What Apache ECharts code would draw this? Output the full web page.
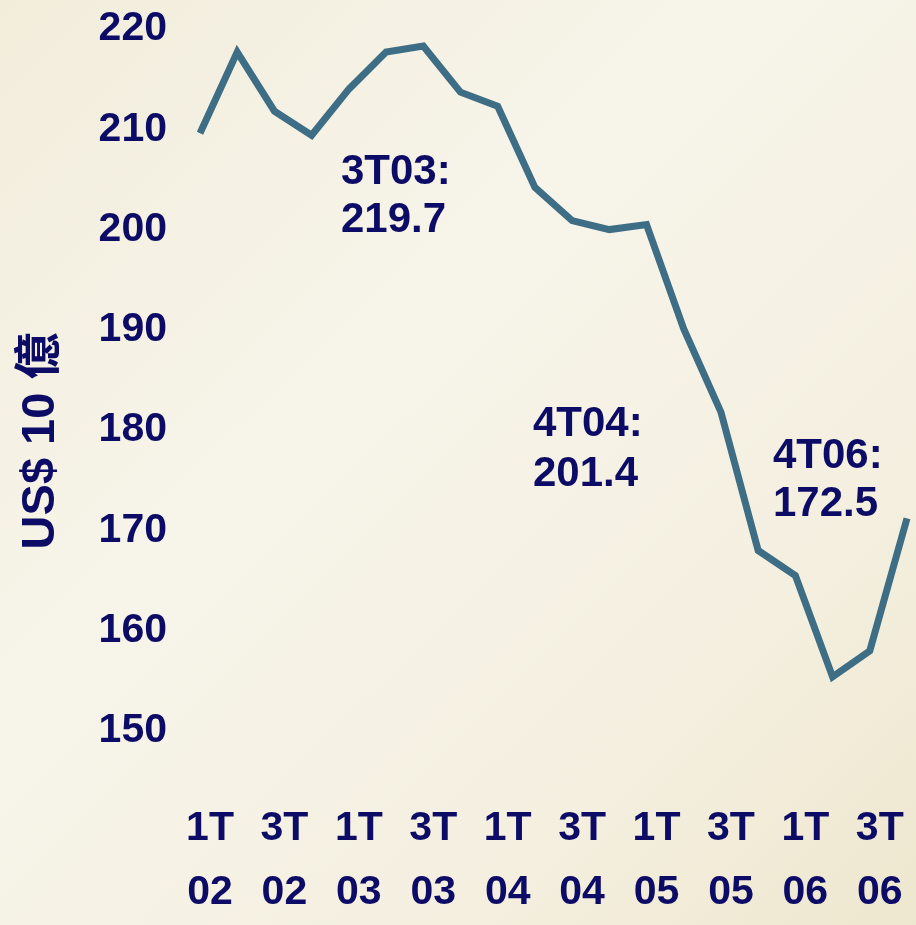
<!DOCTYPE html>
<html>
<head>
<meta charset="utf-8">
<script src="https://cdn.jsdelivr.net/npm/echarts@6/dist/echarts.min.js"></script>
<style>
  html, body { margin: 0; padding: 0; }
  #chart { width: 916px; height: 925px; }
</style>
</head>
<body>
<div id="chart"></div>
<script>
// 季度 (1T02 ... 4T06)
var years = ['02', '03', '04', '05', '06'];
var quarters = ['1T', '2T', '3T', '4T'];
// US$ 10 億
var values = [209.6, 217.7, 211.8, 209.4, 214.0, 217.7, 218.3, 213.7, 212.3, 204.2,
              200.9, 200.0, 200.5, 190.1, 181.8, 168.0, 165.5, 155.4, 158.0, 171.2];
var yTicks = [150, 160, 170, 180, 190, 200, 210, 220];
var notes = ['3T03:\n219.7', '4T04:\n201.4', '4T06:\n172.5'];

var categories = [];
years.forEach(function (y) {
  quarters.forEach(function (q) { categories.push(q + '\n' + y); });
});

var navy = '#0c0c66';
var font = '"Liberation Sans", Arial, "Noto Sans CJK TC", sans-serif';

var chart = echarts.init(document.getElementById('chart'));
chart.setOption({
  animation: false,
  backgroundColor: {
    type: 'linear', x: 0, y: 0, x2: 1, y2: 1,
    colorStops: [
      { offset: 0, color: '#f2eddb' },
      { offset: 0.4, color: '#f7f4ea' },
      { offset: 0.75, color: '#f4efdf' },
      { offset: 1, color: '#eee7cf' }
    ]
  },
  grid: { left: 200, right: 9, top: 29, bottom: 185 },
  xAxis: {
    type: 'category',
    boundaryGap: false,
    data: categories,
    axisLine: { show: false },
    axisTick: { show: false },
    axisLabel: {
      interval: 1,
      margin: 66,
      color: navy,
      fontFamily: font,
      fontWeight: 'bold',
      fontSize: 41,
      lineHeight: 64,
      padding: [0, 0, 0, 20]
    }
  },
  yAxis: {
    type: 'value',
    min: yTicks[0],
    max: yTicks[yTicks.length - 1],
    interval: 10,
    splitLine: { show: false },
    axisLine: { show: false },
    axisTick: { show: false },
    axisLabel: {
      margin: 33,
      color: navy,
      fontFamily: font,
      fontWeight: 'bold',
      fontSize: 41,
      padding: [4, 0, 0, 0]
    }
  },
  series: [{
    type: 'line',
    data: values,
    symbol: 'none',
    lineStyle: { color: '#3e6e86', width: 7, cap: 'butt', join: 'miter' }
  }],
  graphic: [
    // 軸標題
    {
      type: 'text', x: 41, y: 441, rotation: Math.PI / 2,
      style: {
        text: 'US$ 10 億', fill: navy, font: 'bold 47px ' + font,
        align: 'center', verticalAlign: 'middle'
      }
    },
    {
      type: 'text', left: 341, top: 148,
      style: { text: notes[0], fill: navy, font: 'bold 42px ' + font, lineHeight: 48 }
    },
    {
      type: 'text', left: 533, top: 399,
      style: { text: notes[1], fill: navy, font: 'bold 42px ' + font, lineHeight: 50 }
    },
    {
      type: 'text', left: 773, top: 432,
      style: { text: notes[2], fill: navy, font: 'bold 42px ' + font, lineHeight: 48 }
    }
  ]
});
</script>
</body>
</html>
